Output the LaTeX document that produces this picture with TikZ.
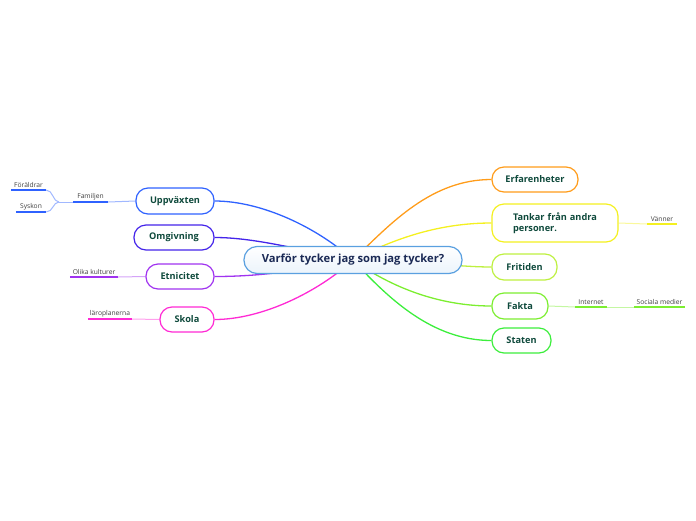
\documentclass[tikz,border=0pt]{standalone}
\usepackage{fontspec}
\setmainfont{Open Sans}
\usetikzlibrary{backgrounds}
\definecolor{cBlue}{HTML}{2F62FF}
\definecolor{cIndigo}{HTML}{4424EA}
\definecolor{cPurple}{HTML}{A033F0}
\definecolor{cMagenta}{HTML}{FF2AD4}
\definecolor{cOrange}{HTML}{FF9C1A}
\definecolor{cYellow}{HTML}{F4F020}
\definecolor{cLime}{HTML}{BEF040}
\definecolor{cLgreen}{HTML}{7CEE30}
\definecolor{cGreen}{HTML}{3CEE3C}
\definecolor{cCenter}{HTML}{5AA0E0}
\definecolor{txtGreen}{HTML}{0F4A3C}
\definecolor{txtNavy}{HTML}{1B2A55}
\begin{document}
\begin{tikzpicture}[x=1pt,y=-1pt,
  topic/.style={draw=#1, line width=1.2pt, rounded corners=12pt, fill=white,
    text=txtGreen, font=\fontsize{9.2}{11.2}\selectfont\bfseries, inner sep=0pt},
  central/.style={draw=cCenter, line width=1.2pt, rounded corners=13pt,
    top color=white, bottom color=cCenter!12, text=txtNavy,
    font=\fontsize{11.2}{13}\selectfont\bfseries, minimum width=218pt, minimum height=27pt, inner sep=0pt},
  leaf/.style={anchor=south, inner sep=0pt, minimum height=10pt, text=black!75,
    font=\fontsize{6.7}{7.5}\selectfont},
  uline/.style={draw=#1, line width=1.6pt},
  thin/.style={draw=#1!45, line width=1pt},
  branch/.style={draw=#1, line width=1.3pt}
]
\useasboundingbox (0,0) rectangle (696,520);

\node[central] (c) at (353,260) {Varför tycker jag som jag tycker?};

% left topics
\node[topic=cBlue, minimum width=78pt, minimum height=26pt] (u) at (175,201) {Uppväxten};
\node[topic=cIndigo, minimum width=80pt, minimum height=25pt] (o) at (174,237.5) {Omgivning};
\node[topic=cPurple, minimum width=68pt, minimum height=25pt] (e) at (180,276.5) {Etnicitet};
\node[topic=cMagenta, minimum width=54pt, minimum height=25pt] (s) at (187,319.5) {Skola};

% right topics
\node[topic=cOrange, minimum width=86pt, minimum height=25pt] (er) at (535,179.5) {Erfarenheter};
\node[topic=cYellow, minimum height=38pt, text width=84pt, align=left, inner xsep=21pt] (t) at (555,223) {Tankar från andra\\personer.};
\node[topic=cLime, minimum width=65pt, minimum height=26pt] (fr) at (524.5,267) {Fritiden};
\node[topic=cLgreen, minimum width=56pt, minimum height=26pt] (fa) at (520,306) {Fakta};
\node[topic=cGreen, minimum width=59pt, minimum height=25pt] (st) at (521.5,340.5) {Staten};

% leaves
\node[leaf, minimum width=35pt] (fam) at (90.5,202) {Familjen};
\node[leaf, minimum width=35pt] (for) at (28.5,190) {Föräldrar};
\node[leaf, minimum width=30pt] (sys) at (31,212) {Syskon};
\node[leaf, minimum width=48pt] (ok) at (94,277) {Olika kulturer};
\node[leaf, minimum width=44pt] (lp) at (110,319) {läroplanerna};
\node[leaf, minimum width=30pt] (va) at (662,224) {Vänner};
\node[leaf, minimum width=32pt] (in) at (591,307) {Internet};
\node[leaf, minimum width=51pt] (sm) at (659.5,307) {Sociala medier};

\begin{scope}[on background layer]
  % central branches
  \draw[branch=cBlue] (c.center) .. controls (318,228) and (262,201) .. (u.east);
  \draw[branch=cIndigo] (c.center) .. controls (300,250) and (255,237.5) .. (o.east);
  \draw[branch=cPurple] (c.center) .. controls (295,272) and (255,276.5) .. (e.east);
  \draw[branch=cMagenta] (c.center) .. controls (318,292) and (262,319.5) .. (s.east);
  \draw[branch=cOrange] (c.center) .. controls (392,222) and (432,179.5) .. (er.west);
  \draw[branch=cYellow] (c.center) .. controls (395,238) and (440,223) .. (t.west);
  \draw[branch=cLime] (c.center) .. controls (430,262) and (460,267) .. (fr.west);
  \draw[branch=cLgreen] (c.center) .. controls (392,288) and (440,306) .. (fa.west);
  \draw[branch=cGreen] (c.center) .. controls (388,298) and (432,340.5) .. (st.west);
  % leaf connectors
  \draw[thin=cBlue] (u.west) -- (fam.south east);
  \draw[thin=cBlue] (fam.south west) -- (59,202) coordinate (fj);
  \draw[thin=cBlue] (fj) .. controls (53,202) and (53,190) .. (for.south east);
  \draw[thin=cBlue] (fj) .. controls (53,202) and (53,212) .. (sys.south east);
  \draw[thin=cPurple] (e.west) -- (ok.south east);
  \draw[thin=cMagenta] (s.west) -- (lp.south east);
  \draw[thin=cYellow] (t.east) -- (va.south west);
  \draw[thin=cLgreen] (fa.east) -- (in.south west);
  \draw[thin=cLgreen] (in.south east) -- (sm.south west);
\end{scope}

% underlines
\draw[uline=cBlue] (fam.south west) -- (fam.south east);
\draw[uline=cBlue] (for.south west) -- (for.south east);
\draw[uline=cBlue] (sys.south west) -- (sys.south east);
\draw[uline=cPurple] (ok.south west) -- (ok.south east);
\draw[uline=cMagenta] (lp.south west) -- (lp.south east);
\draw[uline=cYellow] (va.south west) -- (va.south east);
\draw[uline=cLgreen] (in.south west) -- (in.south east);
\draw[uline=cLgreen] (sm.south west) -- (sm.south east);
\end{tikzpicture}
\end{document}
